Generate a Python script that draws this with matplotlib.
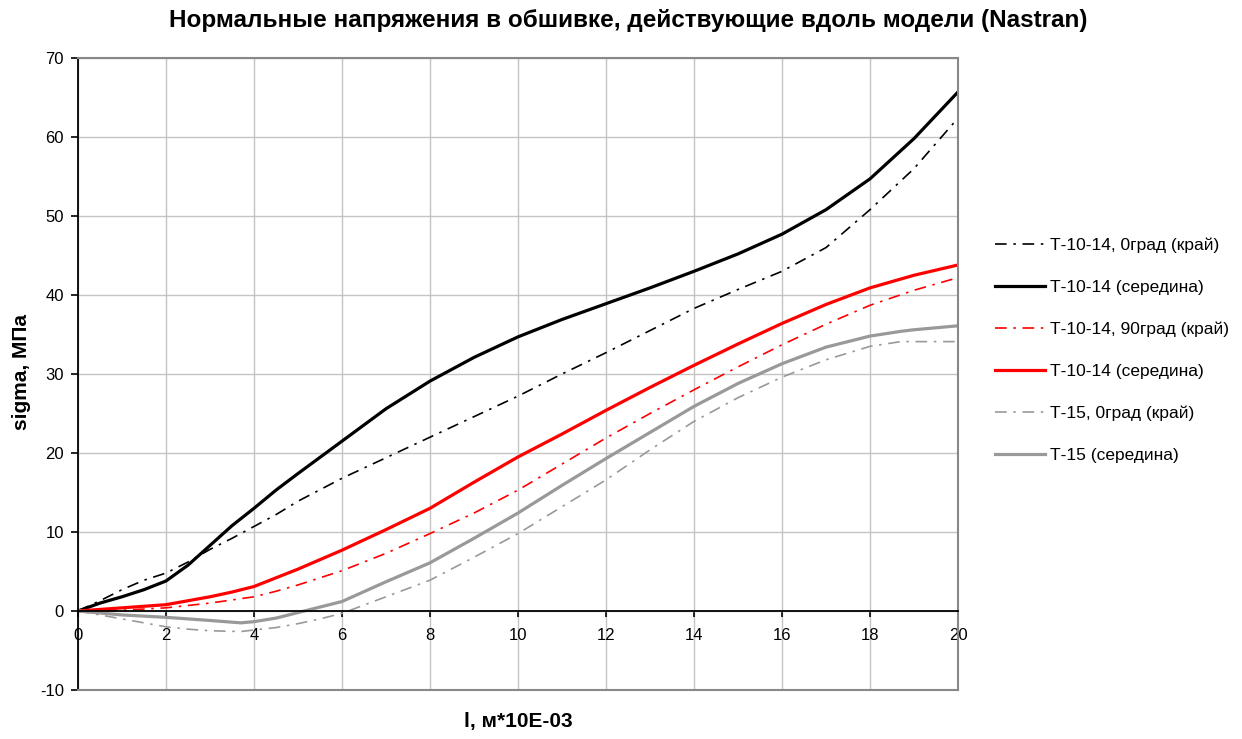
import matplotlib
matplotlib.use("Agg")
import matplotlib.pyplot as plt

plt.rcParams['font.family'] = ['Liberation Sans', 'DejaVu Sans']
plt.rcParams['axes.unicode_minus'] = False

# --- DATA ---
x_t10 = [0, 0.5, 1, 1.5, 2, 2.5, 3, 3.5, 4, 4.5, 5, 6, 7, 8, 9, 10, 11, 12, 13, 14, 15,
         16, 17, 18, 19, 20]
black_mid = [0, 1.0, 1.8, 2.7, 3.8, 5.8, 8.3, 10.8, 13.0, 15.3, 17.4, 21.5, 25.6, 29.1,
             32.1, 34.7, 36.9, 38.9, 40.9, 43.0, 45.2, 47.7, 50.8, 54.7, 59.8, 65.7]
black_edge = [0, 1.3, 2.7, 3.9, 4.8, 6.2, 7.8, 9.2, 10.7, 12.2, 13.9, 16.8, 19.4, 22.0,
              24.6, 27.2, 30.0, 32.7, 35.5, 38.3, 40.7, 43.0, 46.0, 50.8, 56.0, 62.4]
red_mid = [0, 0.2, 0.4, 0.6, 0.8, 1.3, 1.8, 2.4, 3.1, 4.2, 5.3, 7.7, 10.3, 13.0, 16.3,
           19.5, 22.4, 25.4, 28.3, 31.1, 33.8, 36.4, 38.8, 40.9, 42.5, 43.8]
red_edge = [0, 0.05, 0.1, 0.25, 0.4, 0.7, 1.0, 1.4, 1.8, 2.5, 3.3, 5.1, 7.3, 9.8, 12.4,
            15.3, 18.6, 21.9, 25.0, 28.0, 30.9, 33.7, 36.3, 38.7, 40.6, 42.2]

x_t15 = [0, 0.5, 1, 1.5, 2, 2.5, 3, 3.7, 4, 4.5, 5, 5.5, 6, 7, 8, 9, 10, 11, 12, 13, 14,
         15, 16, 17, 18, 18.7, 19, 20]
gray_mid = [0, -0.25, -0.5, -0.65, -0.8, -1.0, -1.2, -1.5, -1.35, -0.9, -0.2, 0.5, 1.2,
            3.7, 6.1, 9.2, 12.4, 15.9, 19.3, 22.6, 25.9, 28.8, 31.3, 33.4, 34.8, 35.4,
            35.6, 36.1]
gray_edge = [0, -0.5, -1.0, -1.5, -2.0, -2.3, -2.5, -2.6, -2.4, -2.1, -1.6, -1.0, -0.3,
             1.8, 3.9, 6.8, 9.8, 13.2, 16.6, 20.4, 24.0, 27.0, 29.6, 31.8, 33.5, 34.1,
             34.1, 34.1]

labels = ["Т-10-14, 0град (край)", "Т-10-14 (середина)", "Т-10-14, 90град (край)",
          "Т-10-14 (середина)", "Т-15, 0град (край)", "Т-15 (середина)"]

RED = "#ff0000"
GRAY = "#999999"
DASHDOT = (0, (7, 4, 1.5, 4))

fig = plt.figure(figsize=(12.42, 7.39), dpi=100)
ax = fig.add_axes([78 / 1242, 49 / 739, 880 / 1242, 632 / 739])

ax.plot(x_t10, black_edge, color="black", lw=1.2, linestyle=DASHDOT, label=labels[0])
ax.plot(x_t10, black_mid, color="black", lw=2.3, label=labels[1])
ax.plot(x_t10, red_edge, color=RED, lw=1.2, linestyle=DASHDOT, label=labels[2])
ax.plot(x_t10, red_mid, color=RED, lw=2.3, label=labels[3])
ax.plot(x_t15, gray_edge, color=GRAY, lw=1.2, linestyle=DASHDOT, label=labels[4])
ax.plot(x_t15, gray_mid, color=GRAY, lw=2.3, label=labels[5])

ax.set_xlim(0, 20)
ax.set_ylim(-10, 70)
ax.set_xticks(range(0, 21, 2))
ax.set_yticks(range(-10, 71, 10))
ax.grid(True, color="#c4c4c4", lw=1)
ax.set_axisbelow(True)

# x axis sits on y=0, outer frame is gray
ax.spines['bottom'].set_position(('data', 0))
ax.spines['bottom'].set_color('black')
ax.spines['bottom'].set_linewidth(1.3)
ax.spines['left'].set_color('black')
ax.spines['left'].set_linewidth(1.3)
for s in ['top', 'right']:
    ax.spines[s].set_color('#888888')
    ax.spines[s].set_linewidth(1.5)
ax.axhline(-10, color='#888888', lw=1.5, clip_on=False, zorder=5)

ax.tick_params(axis='both', labelsize=12, direction='out', width=1.2)
ax.tick_params(axis='x', length=4, pad=8)
ax.tick_params(axis='y', length=5, pad=5)

fig.text(628 / 1242, 1 - 21 / 739,
         "Нормальные напряжения в обшивке, действующие вдоль модели (Nastran)",
         fontsize=17.5, fontweight='bold', ha='center', va='center')
fig.text(518 / 1242, 1 - 722 / 739, "l, м*10E-03", fontsize=15, fontweight='bold',
         ha='center', va='center')
fig.text(22 / 1242, 1 - 372 / 739, "sigma, МПа", fontsize=15, fontweight='bold',
         ha='center', va='center', rotation=90)

ax.legend(loc='upper left', bbox_to_anchor=(1.034, 0.727), frameon=False, fontsize=12.5,
          handlelength=2.9, handletextpad=0.3, labelspacing=1.54, borderaxespad=0)

plt.savefig("out.png", dpi=100)
